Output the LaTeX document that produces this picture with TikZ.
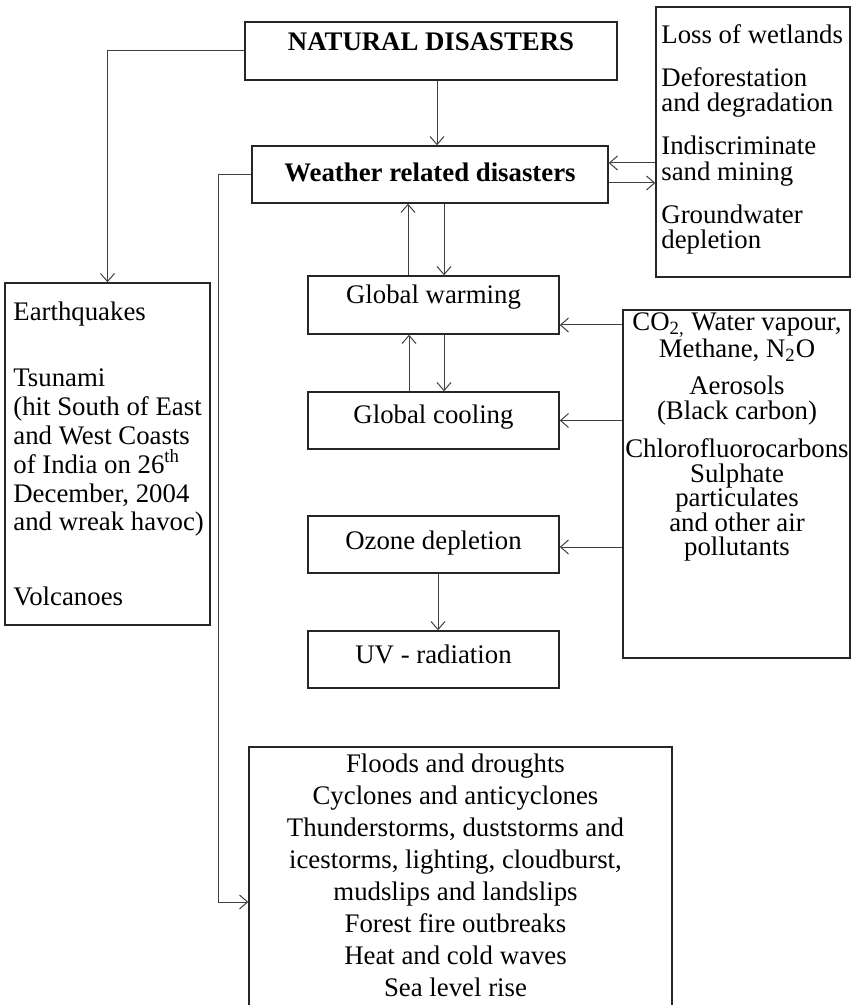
\documentclass[tikz,border=0pt]{standalone}
\usepackage{fontspec}
\setmainfont{Liberation Serif}
\usepackage{tikz}
\usetikzlibrary{arrows.meta}

\begin{document}
\begin{tikzpicture}[x=0.5pt, y=-0.5pt,
    >={Straight Barb[length=4pt,width=7pt]},
    every node/.style={font=\fontsize{13.4pt}{14.4pt}\selectfont},
    box/.style 2 args={draw=black!85, line width=0.75pt, inner sep=0pt,
        minimum width=125.5pt, text height=#1, text depth=#2},
    panel/.style={draw=black!85, line width=0.75pt, inner sep=0pt},
    txt/.style={inner sep=0pt},
    link/.style={->, draw=black!75, line width=0.5pt}]
    \useasboundingbox (0,0) rectangle (857,1005);
    \clip (0,0) rectangle (857,1005);
    % Colonna centrale
    \node[box={14.5pt}{14.5pt}, minimum width=186pt] (natural) at (431,51) {\textbf{NATURAL DISASTERS}};
    \node[box={18pt}{10.5pt}, minimum width=178pt] (weather) at (430,174.5) {\textbf{Weather related disasters}};
    \node[box={13.75pt}{15.25pt}] (warming) at (433.5,305) {Global warming};
    \node[box={15.5pt}{13pt}] (cooling) at (433.5,420.5) {Global cooling};
    \node[box={16.5pt}{12pt}] (ozone) at (433.5,544.5) {Ozone depletion};
    \node[box={16pt}{12.5pt}] (uv) at (433.5,659.5) {UV - radiation};
    % Riquadro a sinistra
    \node[panel, minimum width=102.5pt, minimum height=171pt] (quakes) at (107.5,454) {};
    \node[txt, anchor=north west, align=left] (quakestxt) at (13,302)
        {Earthquakes\\[18.6pt] Tsunami\\ (hit South of East\\ and West Coasts\\
         of India on 26\textsuperscript{th}\\ December, 2004\\ and wreak havoc)\\[23.1pt] Volcanoes};
    % Riquadro in alto a destra
    \node[panel, minimum width=97pt, minimum height=135pt] (land) at (753,142) {};
    \node[txt, anchor=north west, align=left,
        font={\fontsize{13.4pt}{12.75pt}\selectfont\lineskiplimit=-20pt}] (landtxt) at (661,24)
        {Loss of wetlands\\[8.75pt] Deforestation\\ and degradation\\[8.75pt]
         Indiscriminate\\ sand mining\\[8.75pt] Groundwater\\ depletion};
    % Riquadro dei gas
    \node[panel, minimum width=113.5pt, minimum height=174pt] (gases) at (736.5,484) {};
    \node[txt, anchor=north, align=center,
        font={\fontsize{13.4pt}{12.25pt}\selectfont\lineskiplimit=-20pt}] (gasestxt) at (737,312)
        {CO\textsubscript{2,} Water vapour,\\[1.25pt] Methane, N\textsubscript{2}O\\[6.5pt]
         Aerosols\\ (Black carbon)\\[7pt] Chlorofluorocarbons\\ Sulphate\\
         particulates\\ and other air\\ pollutants};
    % Riquadro in basso
    \node[panel, minimum width=211.5pt, minimum height=155pt] (floods) at (460.5,902) {};
    \node[txt, anchor=north, align=center,
        font=\fontsize{13.4pt}{16pt}\selectfont] (floodstxt) at (455.5,753)
        {Floods and droughts\\ Cyclones and anticyclones\\ Thunderstorms, duststorms and\\
         icestorms, lighting, cloudburst,\\ mudslips and landslips\\ Forest fire outbreaks\\
         Heat and cold waves\\ Sea level rise};
    % Frecce dai disastri naturali
    \draw[link] (natural.west) -| (quakes.north);
    \draw[link] ([xshift=3pt]natural.south) -- ([xshift=3.5pt]weather.north);
    \draw[link] (weather.west) -- ++(-16.5pt,0) |- (floods.west);
    % Scambio con il riquadro in alto a destra
    \draw[link] ([yshift=-10.5pt]land.west) -- ([yshift=5.75pt]weather.east);
    \draw[link] ([yshift=-4.25pt]weather.east) -- ([yshift=-20.5pt]land.west);
    % Riscaldamento e raffreddamento
    \draw[link] ([xshift=-12.75pt]warming.north) -- ([xshift=-11pt]weather.south);
    \draw[link] ([xshift=7pt]weather.south) -- ([xshift=5.25pt]warming.north);
    \draw[link] ([xshift=-12.25pt]cooling.north) -- ([xshift=-12.25pt]warming.south);
    \draw[link] ([xshift=5.25pt]warming.south) -- ([xshift=5.25pt]cooling.north);
    % Frecce dai gas
    \draw[link] ([yshift=79.5pt]gases.west) -- ([yshift=-10pt]warming.east);
    \draw[link] (cooling.east -| gases.west) -- (cooling.east);
    \draw[link] ([yshift=-31.5pt]gases.west) -- ([yshift=-1.25pt]ozone.east);
    \draw[link] ([xshift=2.25pt]ozone.south) -- ([xshift=2.25pt]uv.north);
\end{tikzpicture}
\end{document}
